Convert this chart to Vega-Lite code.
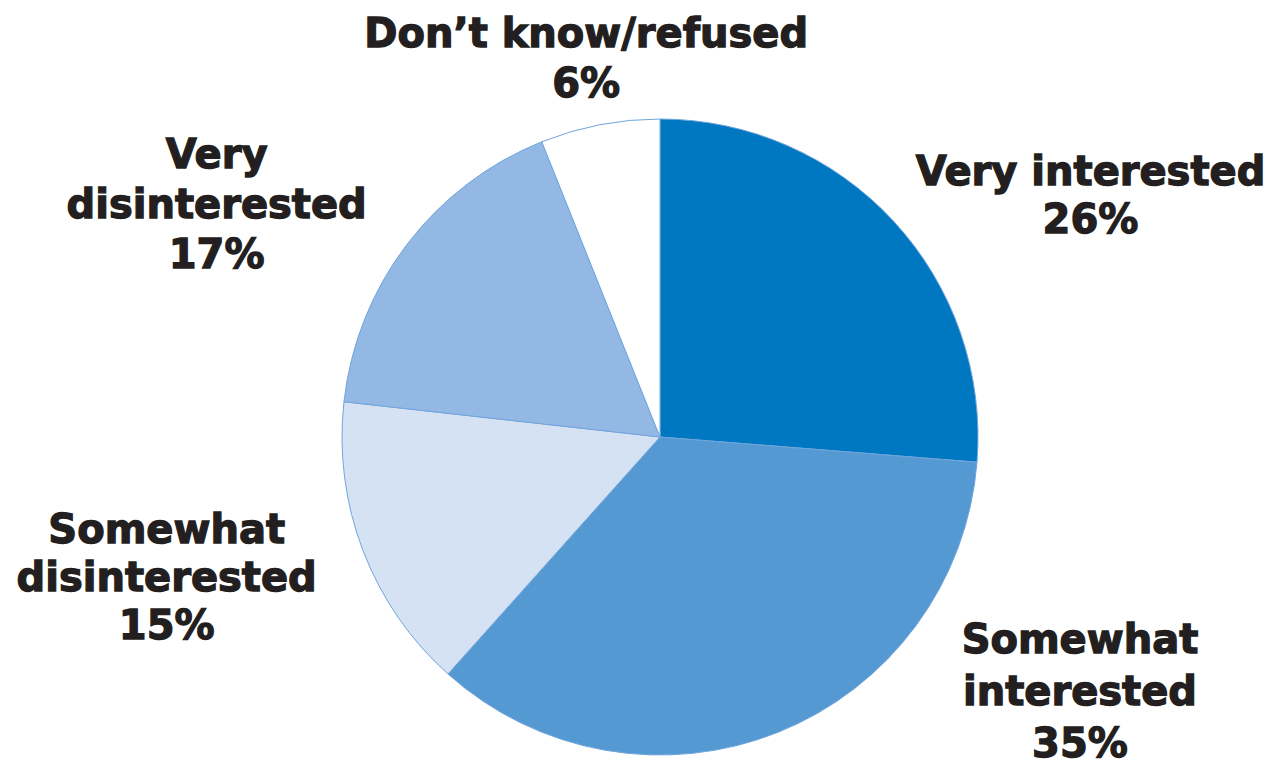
{
  "$schema": "https://vega.github.io/schema/vega-lite/v6.json",
  "autosize": {"type": "none"},
  "width": 1228,
  "height": 650,
  "padding": {"left": 46, "top": 112, "right": 0, "bottom": 0},
  "background": "#ffffff",
  "view": {"stroke": null},
  "data": {
    "values": [
      {"idx": 1, "category": "Very interested", "value": 26, "label": ["Very interested", "26%"]},
      {"idx": 2, "category": "Somewhat interested", "value": 35, "label": ["Somewhat", "interested", "35%"]},
      {"idx": 3, "category": "Somewhat disinterested", "value": 15, "label": ["Somewhat", "disinterested", "15%"]},
      {"idx": 4, "category": "Very disinterested", "value": 17, "label": ["Very", "disinterested", "17%"]},
      {"idx": 5, "category": "Don't know/refused", "value": 6, "label": ["Don’t know/refused", "6%"]}
    ]
  },
  "encoding": {
    "theta": {"field": "value", "type": "quantitative", "stack": true},
    "order": {"field": "idx", "type": "quantitative"},
    "color": {
      "field": "category",
      "type": "nominal",
      "legend": null,
      "scale": {
        "domain": ["Very interested", "Somewhat interested", "Somewhat disinterested", "Very disinterested", "Don't know/refused"],
        "range": ["#0077c1", "#5599d3", "#d5e2f3", "#93b8e3", "#ffffff"]
      }
    }
  },
  "layer": [
    {
      "mark": {"type": "arc", "outerRadius": 318, "stroke": "#6fa5dc", "strokeWidth": 1}
    },
    {
      "mark": {"type": "text", "radius": 390, "dx": 144, "dy": 13, "align": "center", "baseline": "alphabetic", "font": "DejaVu Sans", "fontWeight": "bold", "fontSize": 40, "lineHeight": 48, "stroke": "#231f20", "strokeWidth": 1.3},
      "encoding": {"text": {"condition": {"test": "datum.idx == 1", "field": "label"}, "value": ""}, "color": {"value": "#231f20"}}
    },
    {
      "mark": {"type": "text", "radius": 390, "dx": 275, "dy": -146, "align": "center", "baseline": "alphabetic", "font": "DejaVu Sans", "fontWeight": "bold", "fontSize": 40, "lineHeight": 52, "stroke": "#231f20", "strokeWidth": 1.3},
      "encoding": {"text": {"condition": {"test": "datum.idx == 2", "field": "label"}, "value": ""}, "color": {"value": "#231f20"}}
    },
    {
      "mark": {"type": "text", "radius": 390, "dx": -129, "dy": -33, "align": "center", "baseline": "alphabetic", "font": "DejaVu Sans", "fontWeight": "bold", "fontSize": 40, "lineHeight": 48, "stroke": "#231f20", "strokeWidth": 1.3},
      "encoding": {"text": {"condition": {"test": "datum.idx == 3", "field": "label"}, "value": ""}, "color": {"value": "#231f20"}}
    },
    {
      "mark": {"type": "text", "radius": 390, "dx": -133, "dy": -33, "align": "center", "baseline": "alphabetic", "font": "DejaVu Sans", "fontWeight": "bold", "fontSize": 40, "lineHeight": 50, "stroke": "#231f20", "strokeWidth": 1.3},
      "encoding": {"text": {"condition": {"test": "datum.idx == 4", "field": "label"}, "value": ""}, "color": {"value": "#231f20"}}
    },
    {
      "mark": {"type": "text", "radius": 390, "dx": 0, "dy": -7, "align": "center", "baseline": "alphabetic", "font": "DejaVu Sans", "fontWeight": "bold", "fontSize": 40, "lineHeight": 50, "stroke": "#231f20", "strokeWidth": 1.3},
      "encoding": {"text": {"condition": {"test": "datum.idx == 5", "field": "label"}, "value": ""}, "color": {"value": "#231f20"}}
    }
  ]
}
